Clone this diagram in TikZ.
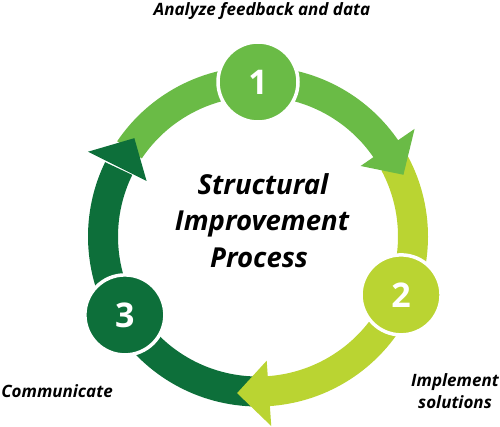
\documentclass[tikz,border=0pt]{standalone}
\usepackage{fontspec}
\setmainfont{Open Sans}
\definecolor{cA}{HTML}{6ABB46}
\definecolor{cB}{HTML}{BAD432}
\definecolor{cC}{HTML}{0D6F3A}
\begin{document}
\begin{tikzpicture}[x=1pt,y=1pt,
  band/.style={line width=30pt},
  num/.style={circle, minimum size=80pt, inner sep=0pt, draw=white, line width=3.5pt, text=white, font=\fontsize{34}{34}\selectfont\bfseries},
  lab/.style={font=\fontsize{17}{20}\selectfont\bfseries\itshape, text=black, inner sep=0pt, anchor=base},
  ttl/.style={font=\fontsize{27.5}{30}\selectfont\bfseries\itshape, text=black, inner sep=0pt, anchor=base}]
\useasboundingbox (0,0) rectangle (500,426);
\coordinate (C) at (258,189.5);
% bands
\draw[band, cA] ([shift={(146:155)}]C) arc[start angle=146, end angle=34, radius=155];
\draw[band, cB] ([shift={(28:155)}]C) arc[start angle=28, end angle=-86.5, radius=155];
\draw[band, cC] ([shift={(-92:155)}]C) arc[start angle=-92, end angle=-206, radius=155];
% heads
\fill[cA] ([shift={(34.5:124.5)}]C) -- ([shift={(34.5:190)}]C) -- ([shift={(23:158)}]C) -- cycle;
\fill[cB] ([shift={(-86:124.5)}]C) -- ([shift={(-86:190)}]C) -- ([shift={(-97.6:158)}]C) -- cycle;
\fill[cC] ([shift={(153.5:124.5)}]C) -- ([shift={(153.5:190)}]C) -- ([shift={(141.5:158)}]C) -- cycle;
% circles
\node[num, fill=cA] (n1) at ([shift={(90:154.5)}]C) {1};
\node[num, fill=cB] (n2) at ([shift={(-22.2:154.5)}]C) {2};
\node[num, fill=cC] (n3) at ([shift={(210.5:154.5)}]C) {3};
% title
\node[ttl] (t1) at (263,231) {Structural};
\node[ttl] (t2) at (262,195) {Improvement};
\node[ttl] (t3) at (259,159) {Process};
% labels
\node[lab] (l1) at (262,410) {Analyze feedback and data};
\node[lab] (l3) at (57,29) {Communicate};
\node[lab] (l2a) at (455,40) {Implement};
\node[lab] (l2b) at (455,18) {solutions};
\end{tikzpicture}
\end{document}
